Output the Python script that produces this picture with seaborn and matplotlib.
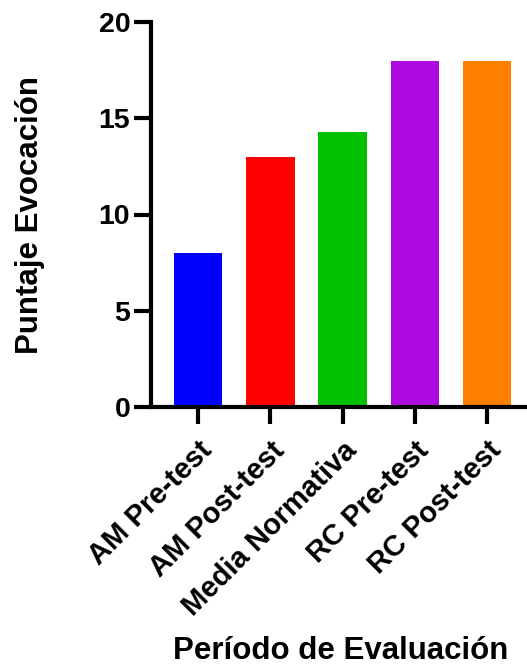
import matplotlib
matplotlib.use("Agg")
import matplotlib.pyplot as plt
import seaborn as sns
import pandas as pd

categories = ["AM Pre-test", "AM Post-test", "Media Normativa", "RC Pre-test", "RC Post-test"]
values = [8, 13, 14.3, 18, 18]
colors = ["#0000FF", "#FF0000", "#00C000", "#AD0AE0", "#FF8000"]
yticks = [0, 5, 10, 15, 20]

sns.set_style("ticks")
plt.rcParams["font.family"] = ["Liberation Sans", "DejaVu Sans"]
plt.rcParams["font.weight"] = "bold"
plt.rcParams["text.color"] = "black"
plt.rcParams["axes.labelcolor"] = "black"
plt.rcParams["xtick.color"] = "black"
plt.rcParams["ytick.color"] = "black"

df = pd.DataFrame({"cat": categories, "val": values})

fig = plt.figure(figsize=(5.27, 6.65), dpi=100)
ax = fig.add_axes([151/527, 1 - 407/665, 376/527, 385/665])

sns.barplot(data=df, x="cat", y="val", hue="cat", palette=colors, width=0.67,
            linewidth=0, legend=False, ax=ax, saturation=1)

ax.set_xlim(-0.65, 4.55)
ax.set_ylim(0, 20)
ax.set_yticks(yticks)
ax.set_yticklabels([str(t) for t in yticks], fontsize=20.5, fontweight="bold", color="black")
ax.set_xticks(range(len(categories)))
ax.set_xticklabels(categories, fontsize=21, fontweight="bold", rotation=45,
                   ha="right", rotation_mode="anchor", color="black")

for s in ["top", "right"]:
    ax.spines[s].set_visible(False)
for s in ["left", "bottom"]:
    ax.spines[s].set_linewidth(3)
    ax.spines[s].set_color("black")
ax.tick_params(axis="both", width=3, length=12, color="black")
ax.tick_params(axis="y", pad=3)
ax.tick_params(axis="x", pad=9)

ax.set_ylabel("Puntaje Evocación", fontsize=22.5, fontweight="bold", color="black")
ax.set_xlabel("Período de Evaluación", fontsize=22.5, fontweight="bold", color="black")
ax.yaxis.set_label_coords(-0.282, 0.5)
ax.xaxis.set_label_coords(0.505, -0.595)
ax.xaxis.label.set_va("top")

fig.savefig("out.png", dpi=100)
